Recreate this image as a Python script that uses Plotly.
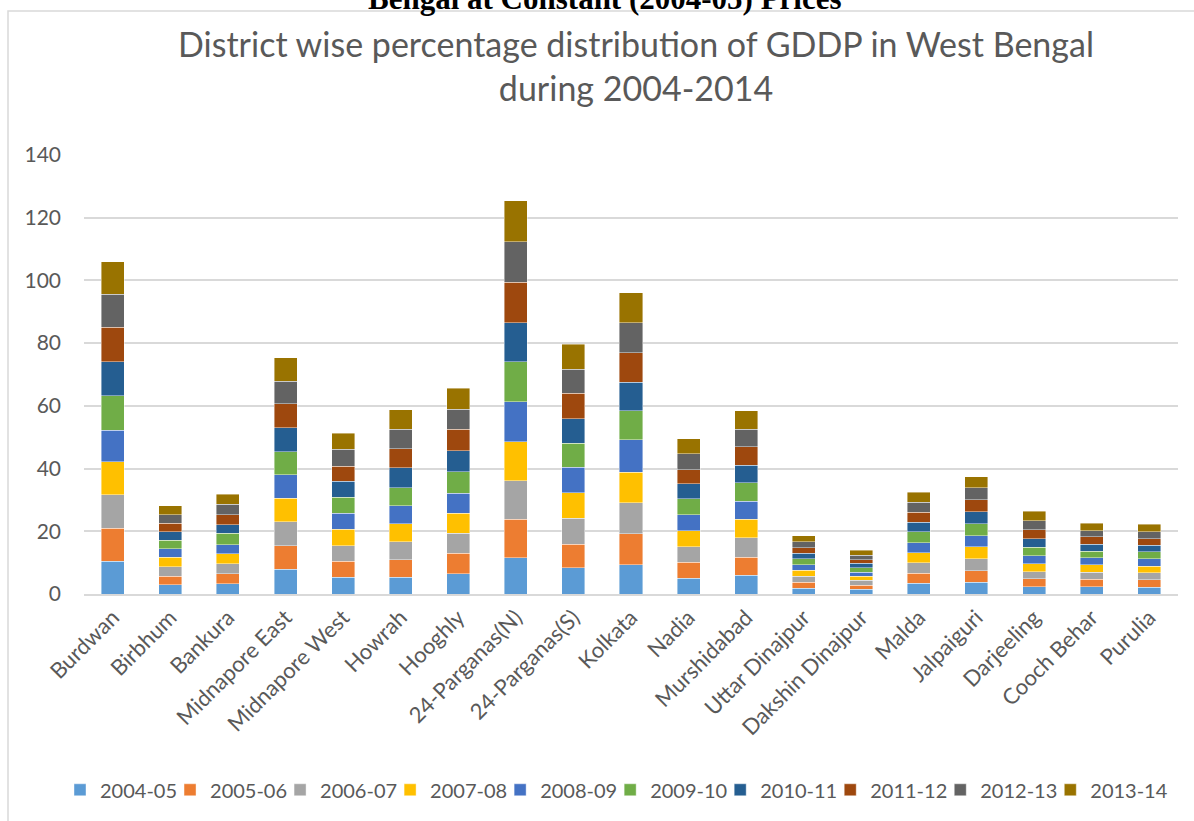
import plotly.graph_objects as go

districts = ["Burdwan", "Birbhum", "Bankura", "Midnapore East", "Midnapore West", "Howrah",
             "Hooghly", "24-Parganas(N)", "24-Parganas(S)", "Kolkata", "Nadia", "Murshidabad",
             "Uttar Dinajpur", "Dakshin Dinajpur", "Malda", "Jalpaiguri", "Darjeeling",
             "Cooch Behar", "Purulia"]

years = ["2004-05", "2005-06", "2006-07", "2007-08", "2008-09",
         "2009-10", "2010-11", "2011-12", "2012-13", "2013-14"]

y2004_05 = [10.5, 2.9, 3.3, 7.9, 5.3, 5.4, 6.5, 11.6, 8.3, 9.3, 5.1, 6.0, 1.8, 1.5, 3.4, 3.8, 2.3, 2.3, 2.2]
y2005_06 = [10.5, 2.7, 3.2, 7.5, 5.1, 5.5, 6.5, 12.2, 7.6, 9.9, 5.0, 5.8, 2.0, 1.3, 3.2, 3.6, 2.5, 2.4, 2.4]
y2006_07 = [10.6, 3.1, 3.1, 7.7, 5.0, 5.8, 6.4, 12.3, 8.2, 9.9, 5.0, 6.2, 1.8, 1.6, 3.3, 3.8, 2.3, 2.3, 2.1]
y2007_08 = [10.5, 3.0, 3.2, 7.5, 5.3, 5.7, 6.4, 12.5, 8.2, 9.8, 5.1, 5.9, 2.0, 1.3, 3.2, 3.8, 2.5, 2.3, 2.2]
y2008_09 = [10.1, 2.7, 2.9, 7.5, 5.1, 5.8, 6.4, 12.7, 8.1, 10.3, 5.1, 5.7, 1.7, 1.3, 3.3, 3.6, 2.6, 2.2, 2.3]
y2009_10 = [11.1, 2.7, 3.7, 7.2, 5.1, 5.7, 6.8, 12.8, 7.7, 9.2, 5.0, 5.9, 1.9, 1.4, 3.4, 3.8, 2.7, 2.2, 2.2]
y2010_11 = [10.8, 2.7, 2.7, 7.7, 5.1, 6.3, 6.7, 12.4, 7.8, 9.1, 4.9, 5.6, 1.8, 1.4, 3.1, 3.9, 2.7, 2.2, 2.1]
y2011_12 = [10.9, 2.8, 3.2, 7.6, 4.8, 6.1, 6.8, 12.9, 8.1, 9.5, 4.4, 5.8, 1.8, 1.2, 3.2, 3.7, 2.9, 2.3, 2.2]
y2012_13 = [10.6, 2.6, 3.4, 7.3, 5.3, 6.3, 6.4, 13.0, 7.6, 9.5, 5.1, 5.7, 1.9, 1.4, 3.1, 3.9, 2.9, 2.0, 2.2]
y2013_14 = [10.4, 2.9, 3.1, 7.5, 5.1, 6.2, 6.7, 13.0, 8.0, 9.6, 4.8, 5.8, 1.8, 1.5, 3.3, 3.5, 3.0, 2.3, 2.3]

series = [y2004_05, y2005_06, y2006_07, y2007_08, y2008_09,
          y2009_10, y2010_11, y2011_12, y2012_13, y2013_14]

colors = ["#5B9BD5", "#ED7D31", "#A5A5A5", "#FFC000", "#4472C4",
          "#70AD47", "#255E91", "#9E480E", "#636363", "#997300"]

y_ticks = [0, 20, 40, 60, 80, 100, 120, 140]

TEXT = "#595959"
FONT = "Lato"

fig = go.Figure()
for name, vals, col in zip(years, series, colors):
    fig.add_trace(go.Bar(
        x=districts, y=vals, name=name,
        marker=dict(color=col, line=dict(color="rgba(255,255,255,0.6)", width=0.7)),
    ))

fig.update_layout(
    barmode="stack",
    bargap=0.6,
    width=1194, height=821,
    margin=dict(l=84, r=16, t=155, b=227, autoexpand=False),
    paper_bgcolor="white", plot_bgcolor="white",
    font=dict(family=FONT, color=TEXT, size=18),
    title=dict(
        text="District wise percentage distribution of GDDP in West Bengal<br>during 2004-2014",
        x=(636 - 84) / 1094, xref="paper", xanchor="center",
        y=1 - 57 / 821, yref="container", yanchor="middle",
        font=dict(family=FONT, size=34, color=TEXT),
    ),
    legend=dict(
        orientation="h", x=(72 - 84) / 1094, xanchor="left",
        y=-0.446, yanchor="middle", indentation=-12,
        font=dict(family=FONT, size=20, color=TEXT),
        traceorder="normal",
    ),
    showlegend=True,
)

fig.update_xaxes(
    tickangle=-45, showgrid=False, showline=True, linecolor="#D9D9D9", linewidth=2,
    ticks="", tickfont=dict(size=22, color=TEXT, family=FONT),
)
fig.update_yaxes(
    range=[0, 140], tickvals=y_ticks, showgrid=True, gridcolor="#D9D9D9", gridwidth=1.5,
    zeroline=False, showline=False, ticks="", ticklabelstandoff=22,
    tickfont=dict(size=21, color=TEXT, family=FONT),
)

# outer chart border (clipped by page at right and bottom)
fig.add_shape(type="rect", xref="paper", yref="paper",
              x0=(8 - 84) / 1094, x1=(1210 - 84) / 1094,
              y0=(594 - 840) / 439, y1=(594 - 11) / 439,
              line=dict(color="#D9D9D9", width=1.5), fillcolor="rgba(0,0,0,0)", layer="below")

# partially visible document heading above the chart
fig.add_annotation(text="<b>Bengal at Constant (2004-05) Prices</b>",
                   xref="paper", yref="paper", x=(605 - 84) / 1094, y=(594 + 1) / 439,
                   xanchor="center", yanchor="middle", showarrow=False,
                   font=dict(family="Liberation Serif", size=31, color="black"))

fig.write_html("out.html")
